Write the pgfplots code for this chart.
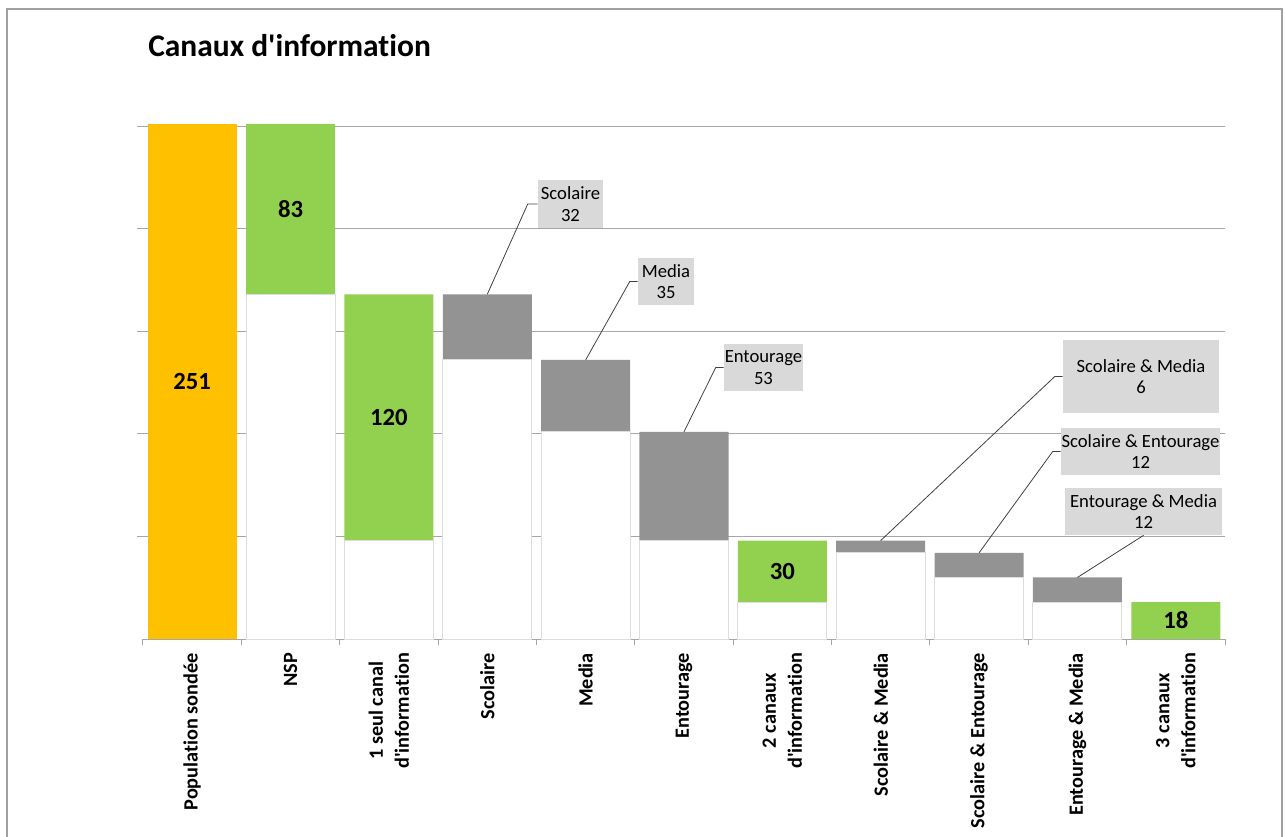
\documentclass[border=0pt]{standalone}
\usepackage{pgfplots}
\pgfplotsset{compat=1.18}
\usepackage{pgfplotstable}
\usepackage{fontspec}
\setmainfont{Carlito}[Ligatures={TeXOff,NoCommon}]
\usetikzlibrary{calc}

\definecolor{orangeBar}{HTML}{FFC000}
\definecolor{greenBar}{HTML}{92D050}
\definecolor{grayBar}{HTML}{939393}
\definecolor{boxFill}{HTML}{D9D9D9}
\definecolor{baseLine}{HTML}{DDDDDD}
\definecolor{gridGray}{HTML}{A6A6A6}
\definecolor{frameGray}{HTML}{A0A0A0}

% waterfall: invisible base + visible step
\pgfplotstableread{
x  base orange green gray
0  0    251    0     0
1  168  0      83    0
2  48   0      120   0
3  136  0      0     32
4  101  0      0     35
5  48   0      0     53
6  18   0      30    0
7  42   0      0     6
8  30   0      0     12
9  18   0      0     12
10 0    0      18    0
}\wfdata

\tikzset{vallabel/.style={font=\fontsize{18.5}{22}\selectfont\bfseries}}

\begin{document}
\begin{tikzpicture}
\path[use as bounding box] (-107.25pt,-147.75pt) rectangle (856.5pt,479.25pt);
\draw[frameGray, line width=0.9pt] (-102pt,-160pt) -- (-102pt,472.5pt) -- (854.25pt,472.5pt) -- (854.25pt,-160pt);
\node[anchor=base west, inner sep=0pt, font=\fontsize{23.6}{28}\selectfont\bfseries] at (3.75pt,436.5pt) {Canaux d'information};

\begin{axis}[
  at={(0,0)}, anchor=south west,
  scale only axis, width=811.5pt, height=386.25pt,
  xmin=-0.5, xmax=10.5, ymin=0, ymax=251,
  ybar stacked, bar width=0.905,
  axis x line*=bottom, axis y line*=left,
  y axis line style={draw=none},
  x axis line style={draw=gridGray, line width=0.75pt},
  ytick={50,100,...,250}, yticklabels={},
  ymajorgrids, grid style={draw=gridGray, line width=0.75pt},
  tick align=outside,
  major tick length=4.5pt,
  tick style={draw=gridGray, line width=0.75pt},
  xtick={-0.5,0.5,...,10.5}, xticklabels={},
  extra x ticks={0,1,2,3,4,5,6,7,8,9,10},
  extra x tick style={major tick length=0pt},
  extra x tick labels={Population sondée, NSP, {1 seul canal\\d'information}, Scolaire, Media, Entourage,
    {2 canaux\\d'information}, Scolaire \& Media, Scolaire \& Entourage, Entourage \& Media,
    {3 canaux\\d'information}},
  xticklabel style={yshift=-7pt, rotate=90, anchor=east, align=center,
    font=\fontsize{15.2}{19.5}\selectfont\bfseries},
]
\addplot[fill=white, draw=baseLine, line width=0.75pt] table[x=x, y=base] {\wfdata};
\addplot[fill=orangeBar, draw=none] table[x=x, y=orange] {\wfdata};
\addplot[fill=greenBar, draw=none] table[x=x, y=green] {\wfdata};
\addplot[fill=grayBar, draw=none] table[x=x, y=gray] {\wfdata};

% label positions (centre of each coloured step)
\coordinate (v0) at (axis cs:0,125.5);
\coordinate (v1) at (axis cs:1,209.5);
\coordinate (v2) at (axis cs:2,108);
\coordinate (v6) at (axis cs:6,33);
\coordinate (v10) at (axis cs:10,9);

\coordinate (b3) at (axis cs:3,168);
\coordinate (b4) at (axis cs:4,136);
\coordinate (b5) at (axis cs:5,101);
\coordinate (b7) at (axis cs:7,48);
\coordinate (b8) at (axis cs:8,42);
\coordinate (b9) at (axis cs:9,30);
\coordinate (p3) at (axis cs:3.846,212);
\coordinate (p4) at (axis cs:4.817,174.2);
\coordinate (p5) at (axis cs:5.808,132.3);
\coordinate (p7) at (axis cs:9.646,127.9);
\coordinate (p8) at (axis cs:9.641,91.4);
\coordinate (p9) at (axis cs:9.672,62.1);
\end{axis}

\node[vallabel] at (v0) {251};
\node[vallabel] at (v1) {83};
\node[vallabel] at (v2) {120};
\node[vallabel] at (v6) {30};
\node[vallabel] at (v10) {18};

\tikzset{callout/.style={fill=boxFill, inner sep=0pt, align=center,
  font=\fontsize{14}{16}\selectfont},
  leader/.style={draw=black!75, line width=0.6pt}}
\node[callout, minimum width=48.75pt, minimum height=36pt] (c3) at (p3) {Scolaire\\32};
\node[callout, minimum width=42pt, minimum height=35.25pt] (c4) at (p4) {Media\\35};
\node[callout, minimum width=59.25pt, minimum height=35.25pt] (c5) at (p5) {Entourage\\53};
\node[callout, minimum width=117pt, minimum height=54.75pt] (c7) at (p7) {Scolaire \& Media\\6};
\node[callout, minimum width=119.25pt, minimum height=35.25pt] (c8) at (p8) {Scolaire \& Entourage\\12};
\node[callout, minimum width=117.75pt, minimum height=35.25pt] (c9) at (p9) {Entourage \& Media\\12};
\draw[leader] (b3) -- ($(c3.west)+(-7.5pt,0)$) -- (c3.west);
\draw[leader] (b4) -- ($(c4.west)+(-6pt,0)$) -- (c4.west);
\draw[leader] (b5) -- ($(c5.west)+(-6pt,0)$) -- (c5.west);
\draw[leader] (b7) -- ($(c7.west)+(-6pt,0)$) -- (c7.west);
\draw[leader] (b8) -- ($(c8.west)+(-6pt,0)$) -- (c8.west);
\draw[leader] (b9) -- (c9.south);
\end{tikzpicture}
\end{document}
